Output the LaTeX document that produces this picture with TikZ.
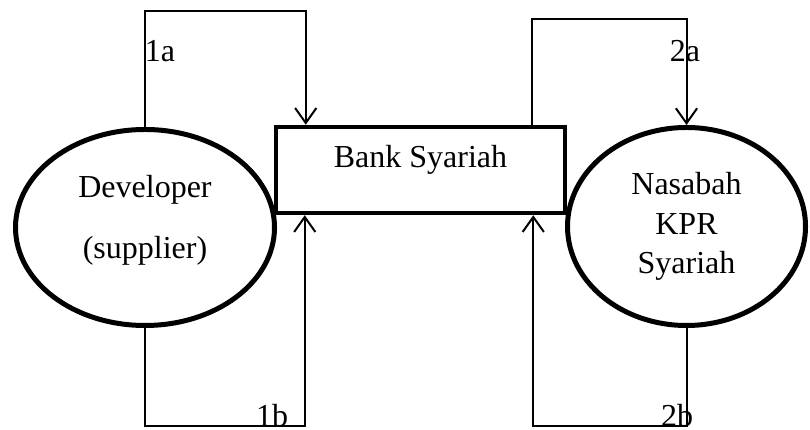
\documentclass[tikz,border=0pt]{standalone}
\usepackage{fontspec}
\setmainfont{Liberation Serif}
\usetikzlibrary{positioning}
\usetikzlibrary{arrows.meta}
\usetikzlibrary{shapes.geometric}

\begin{document}
\begin{tikzpicture}[x=0.4pt,y=-0.4pt,
        font=\fontsize{12.8pt}{15.8pt}\selectfont,
        party/.style={ellipse,draw,line width=2pt,inner sep=0pt,align=center},
        bankbox/.style={rectangle,draw,line width=1.8pt,inner sep=0pt,minimum width=115.6pt,minimum height=34.4pt},
        flow/.style={line width=0.8pt,-{Straight Barb[length=6pt,width=8.5pt]}},
        tag/.style={anchor=base,inner sep=0pt}]
            \useasboundingbox (0,0) rectangle (810,430);

            \node[party,minimum width=103.6pt,minimum height=78.4pt] (dev) at (145,227.5) {Developer\\[8.6pt](supplier)\rule[-8.7pt]{0pt}{1pt}};
            \node[bankbox,text height=8.7pt,text depth=10.3pt] (bank) at (420.5,170) {Bank Syariah};
            \node[party,minimum width=95.2pt,minimum height=79.2pt] (nas) at (686.5,226.5) {Nasabah\\KPR\\Syariah};

            \draw[flow] (dev.north) -- ++(0,-116) -| ([xshift=12.8pt]bank.north west);
            \draw[flow] ([xshift=-14pt]bank.north east) -- ++(0,-106) -| (nas.north);
            \draw[flow] (dev.south) -- ++(0,98) -| ([xshift=12.4pt]bank.south west);
            \draw[flow] (nas.south) -- ++(0,98) -| ([xshift=-13.6pt]bank.south east);

            \node[tag] (l1a) at (160,62) {1a};
            \node[tag] (l2a) at (685,62) {2a};
            \node[tag] (l1b) at (272,427) {1b};
            \node[tag] (l2b) at (677,427) {2b};
        \end{tikzpicture}
\end{document}
